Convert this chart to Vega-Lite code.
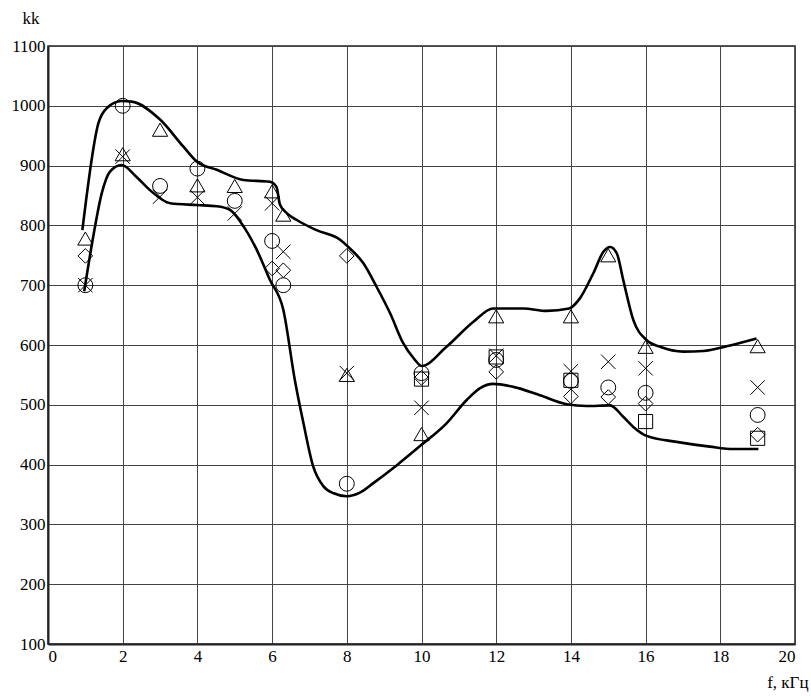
{
  "$schema": "https://vega.github.io/schema/vega-lite/v6.json",
  "width": 747,
  "height": 598,
  "autosize": {"type": "none"},
  "padding": {"left": 48, "top": 46, "right": 16, "bottom": 52},
  "background": "white",
  "config": {
    "view": {"stroke": "#222", "strokeWidth": 1.5},
    "font": "Liberation Serif",
    "axis": {"labelFont": "Liberation Serif", "titleFont": "Liberation Serif", "labelColor": "black", "titleColor": "black"}
  },
  "datasets": {
    "pts": [
      {"m": "triangle", "f": 1, "v": 778}, {"m": "triangle", "f": 2, "v": 919}, {"m": "triangle", "f": 3, "v": 960}, {"m": "triangle", "f": 4, "v": 867}, {"m": "triangle", "f": 5, "v": 866}, {"m": "triangle", "f": 6, "v": 857}, {"m": "triangle", "f": 6.3, "v": 818}, {"m": "triangle", "f": 8, "v": 550}, {"m": "triangle", "f": 10, "v": 451}, {"m": "triangle", "f": 12, "v": 648}, {"m": "triangle", "f": 14, "v": 648}, {"m": "triangle", "f": 15, "v": 750}, {"m": "triangle", "f": 16, "v": 597}, {"m": "triangle", "f": 19, "v": 598},
      {"m": "circle", "f": 1, "v": 700}, {"m": "circle", "f": 2, "v": 1000}, {"m": "circle", "f": 3, "v": 866}, {"m": "circle", "f": 4, "v": 895}, {"m": "circle", "f": 5, "v": 841}, {"m": "circle", "f": 6, "v": 774}, {"m": "circle", "f": 6.3, "v": 700}, {"m": "circle", "f": 8, "v": 368}, {"m": "circle", "f": 10, "v": 553}, {"m": "circle", "f": 12, "v": 575}, {"m": "circle", "f": 14, "v": 540}, {"m": "circle", "f": 15, "v": 529}, {"m": "circle", "f": 16, "v": 520}, {"m": "circle", "f": 19, "v": 483},
      {"m": "diamond", "f": 1, "v": 749}, {"m": "diamond", "f": 6, "v": 728}, {"m": "diamond", "f": 6.3, "v": 725}, {"m": "diamond", "f": 8, "v": 749}, {"m": "diamond", "f": 10, "v": 545}, {"m": "diamond", "f": 12, "v": 555}, {"m": "diamond", "f": 14, "v": 514}, {"m": "diamond", "f": 15, "v": 513}, {"m": "diamond", "f": 16, "v": 502}, {"m": "diamond", "f": 19, "v": 450},
      {"m": "x", "f": 1, "v": 700}, {"m": "x", "f": 2, "v": 915}, {"m": "x", "f": 3, "v": 848}, {"m": "x", "f": 4, "v": 847}, {"m": "x", "f": 5, "v": 820}, {"m": "x", "f": 6, "v": 837}, {"m": "x", "f": 6.3, "v": 756}, {"m": "x", "f": 8, "v": 553}, {"m": "x", "f": 10, "v": 495}, {"m": "x", "f": 12, "v": 582}, {"m": "x", "f": 14, "v": 556}, {"m": "x", "f": 15, "v": 572}, {"m": "x", "f": 16, "v": 561}, {"m": "x", "f": 19, "v": 529},
      {"m": "square", "f": 10, "v": 543}, {"m": "square", "f": 12, "v": 580}, {"m": "square", "f": 14, "v": 541}, {"m": "square", "f": 16, "v": 472}, {"m": "square", "f": 19, "v": 444}
    ],
    "upper": [
      {"f": 0.92, "v": 792}, {"f": 1.35, "v": 971}, {"f": 1.57, "v": 996}, {"f": 1.97, "v": 1008}, {"f": 2.24, "v": 1007}, {"f": 3.0, "v": 977}, {"f": 3.62, "v": 932}, {"f": 3.98, "v": 907}, {"f": 4.52, "v": 893}, {"f": 5.23, "v": 876}, {"f": 5.94, "v": 873}, {"f": 6.12, "v": 864}, {"f": 6.21, "v": 835}, {"f": 6.4, "v": 820}, {"f": 6.66, "v": 809}, {"f": 7.19, "v": 792}, {"f": 7.82, "v": 776}, {"f": 8.04, "v": 764}, {"f": 8.44, "v": 737}, {"f": 8.8, "v": 697}, {"f": 9.16, "v": 653}, {"f": 9.51, "v": 603}, {"f": 9.8, "v": 577}, {"f": 10.0, "v": 565}, {"f": 10.67, "v": 597}, {"f": 11.39, "v": 639}, {"f": 11.92, "v": 661}, {"f": 12.73, "v": 661}, {"f": 13.35, "v": 657}, {"f": 13.95, "v": 661}, {"f": 14.24, "v": 678}, {"f": 14.6, "v": 720}, {"f": 14.87, "v": 756}, {"f": 15.05, "v": 764}, {"f": 15.23, "v": 753}, {"f": 15.4, "v": 709}, {"f": 15.67, "v": 642}, {"f": 16.03, "v": 608}, {"f": 16.39, "v": 597}, {"f": 17.01, "v": 589}, {"f": 17.55, "v": 590}, {"f": 18.17, "v": 598}, {"f": 18.97, "v": 611}
    ],
    "lower": [
      {"f": 0.97, "v": 690}, {"f": 1.21, "v": 781}, {"f": 1.44, "v": 854}, {"f": 1.66, "v": 890}, {"f": 1.97, "v": 901}, {"f": 2.37, "v": 881}, {"f": 2.73, "v": 859}, {"f": 3.27, "v": 837}, {"f": 3.98, "v": 834}, {"f": 4.52, "v": 832}, {"f": 4.87, "v": 826}, {"f": 5.27, "v": 795}, {"f": 5.59, "v": 759}, {"f": 5.94, "v": 709}, {"f": 6.3, "v": 659}, {"f": 6.61, "v": 541}, {"f": 6.84, "v": 469}, {"f": 7.1, "v": 397}, {"f": 7.37, "v": 364}, {"f": 7.65, "v": 352}, {"f": 8.0, "v": 347}, {"f": 8.35, "v": 353}, {"f": 8.71, "v": 369}, {"f": 9.34, "v": 399}, {"f": 10.0, "v": 433}, {"f": 10.67, "v": 469}, {"f": 11.21, "v": 508}, {"f": 11.57, "v": 528}, {"f": 11.92, "v": 535}, {"f": 12.46, "v": 530}, {"f": 13.17, "v": 516}, {"f": 13.89, "v": 501}, {"f": 14.42, "v": 498}, {"f": 15.05, "v": 499}, {"f": 15.4, "v": 480}, {"f": 15.67, "v": 463}, {"f": 16.03, "v": 448}, {"f": 16.83, "v": 438}, {"f": 17.72, "v": 430}, {"f": 18.35, "v": 426}, {"f": 19.02, "v": 426}
    ]
  },
  "layer": [
    {
      "data": {"name": "upper"},
      "mark": {"type": "line", "color": "black", "strokeWidth": 2.6, "interpolate": "monotone"},
      "encoding": {
        "x": {"field": "f", "type": "quantitative", "scale": {"domain": [0, 20], "nice": false},
          "axis": {"values": [0,2,4,6,8,10,12,14,16,18,20], "format": "d", "grid": true, "gridColor": "#444", "gridWidth": 1, "ticks": false, "domainColor": "#222", "domainWidth": 2, "labelFontSize": 17, "labelPadding": 4, "labelDx": 3, "title": "f, кГц", "titleFontSize": 17, "titleFontWeight": "normal", "titleAnchor": "end", "titleAlign": "right", "titleX": 760, "titleY": 43, "titleBaseline": "alphabetic"}},
        "y": {"field": "v", "type": "quantitative", "scale": {"domain": [100, 1100], "nice": false},
          "axis": {"values": [100,200,300,400,500,600,700,800,900,1000,1100], "format": "d", "grid": true, "gridColor": "#444", "gridWidth": 1, "ticks": false, "domainColor": "#222", "domainWidth": 2, "labelFontSize": 17, "labelPadding": 3, "title": "kk", "titleFontSize": 17, "titleFontWeight": "normal", "titleAngle": 0, "titleAlign": "left", "titleBaseline": "middle", "titleX": -26, "titleY": -28}}
      }
    },
    {
      "data": {"name": "lower"},
      "mark": {"type": "line", "color": "black", "strokeWidth": 2.6, "interpolate": "monotone"},
      "encoding": {
        "x": {"field": "f", "type": "quantitative"},
        "y": {"field": "v", "type": "quantitative"}
      }
    },
    {
      "data": {"name": "pts"},
      "mark": {"type": "point", "filled": false, "stroke": "black", "strokeWidth": 1, "opacity": 1},
      "encoding": {
        "x": {"field": "f", "type": "quantitative"},
        "y": {"field": "v", "type": "quantitative"},
        "shape": {"field": "m", "type": "nominal", "legend": null,
          "scale": {"domain": ["triangle", "circle", "diamond", "x", "square"], "range": ["triangle-up", "circle", "diamond", "M-1,-1L1,1M-1,1L1,-1", "square"]}},
        "size": {"field": "m", "type": "nominal", "legend": null,
          "scale": {"domain": ["triangle", "circle", "diamond", "x", "square"], "range": [230, 200, 200, 230, 200]}}
      }
    }
  ]
}
